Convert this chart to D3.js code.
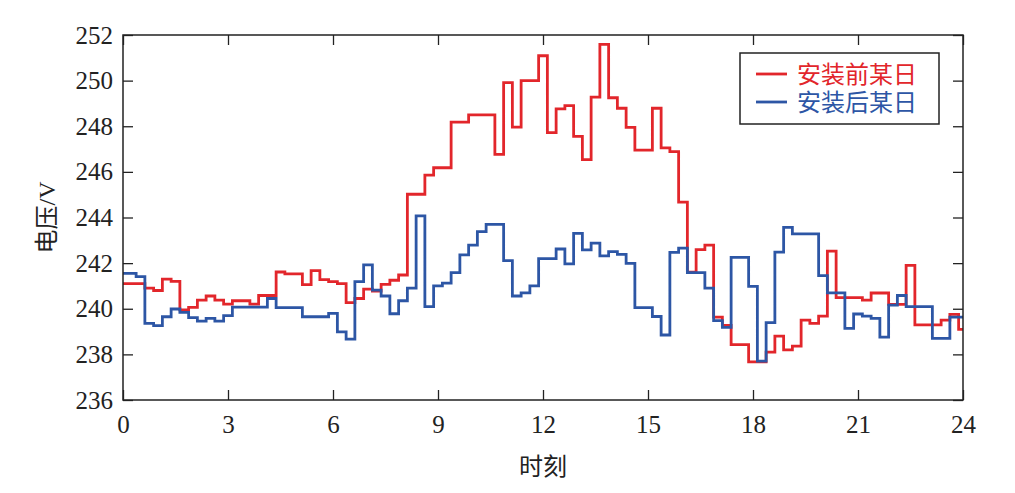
<!DOCTYPE html>
<html>
  <head>
    <meta charset="utf-8">
    <title>电压对比</title>
    <style>
      body { margin: 0; background: #fff; }
      text { fill: #222; }
    </style>
  </head>
  <body>
    <div id="chart"></div>
  </body>
  <script src="https://d3js.org/d3.v7.min.js"></script>
  <script>

    // time axis: one reading every 15 min, 0..24 h
    let hours = d3.range(0, 24.001, 0.25);

    // voltage before installation (V)
    let before = [
      241.1, 241.1, 241.1, 240.9, 240.8, 241.3, 241.2, 239.95, 240.06, 240.38,
      240.56, 240.38, 240.2, 240.35, 240.35, 240.2, 240.58, 240.58, 241.61, 241.53,
      241.53, 241.06, 241.67, 241.28, 241.19, 241.1, 240.27, 240.45, 240.86, 240.77,
      241.07, 241.25, 241.48, 245.02, 245.02, 245.86, 246.18, 246.18, 248.18, 248.18,
      248.5, 248.5, 248.5, 246.77, 249.91, 247.96, 250.0, 250.0, 251.09, 247.72,
      248.76, 248.9, 247.56, 246.54, 249.28, 251.59, 249.25, 248.79, 247.95, 246.95,
      246.95, 248.79, 247.05, 246.89, 244.67, 241.6, 242.59, 242.79, 239.63, 239.27,
      238.43, 238.43, 237.67, 237.67, 238.1, 238.8, 238.2, 238.36, 239.5, 239.36,
      239.68, 242.53, 240.49, 240.49, 240.49, 240.38, 240.69, 240.69, 240.19, 240.19,
      241.9, 239.29, 239.29, 239.29, 239.5, 239.75, 239.1
    ];

    // voltage after installation (V)
    let after = [
      241.55, 241.55, 241.41, 239.36, 239.26, 239.65, 239.99, 239.84, 239.61, 239.46,
      239.58, 239.46, 239.7, 240.07, 240.07, 240.07, 240.07, 240.45, 240.05, 240.05,
      240.05, 239.65, 239.65, 239.65, 239.8, 238.99, 238.67, 241.19, 241.92, 240.82,
      240.56, 239.78, 240.35, 240.9, 244.07, 240.09, 241.0, 241.12, 241.58, 242.36,
      242.79, 243.38, 243.7, 243.7, 242.11, 240.56, 240.7, 241.0, 242.2, 242.2,
      242.62, 241.97, 243.3, 242.58, 242.88, 242.32, 242.5, 242.38, 241.99, 240.05,
      240.05, 239.66, 238.85, 242.47, 242.66, 241.58, 241.58, 240.9, 239.48, 239.18,
      242.25, 242.25, 240.98, 237.7, 239.39, 242.48, 243.57, 243.28, 243.28, 243.28,
      241.45, 240.7, 240.7, 239.14, 239.77, 239.68, 239.58, 238.76, 240.16, 240.58,
      240.09, 240.09, 240.09, 238.7, 238.7, 239.63, 239.63
    ];

    let seriesNames = ["安装前某日", "安装后某日"];
    let seriesColors = ["#e2262b", "#2d56a5"];
    let xTicks = [0, 3, 6, 9, 12, 15, 18, 21, 24];
    let yTicks = [236, 238, 240, 242, 244, 246, 248, 250, 252];

    let margin = {top: 35, right: 52, bottom: 93, left: 123};
    let width = 1015 - margin.left - margin.right;
    let height = 493 - margin.top - margin.bottom;

    let xScale = d3.scaleLinear().domain([0, 24]).range([0, width]);
    let yScale = d3.scaleLinear().domain([236, 252]).range([height, 0]);

    let svg = d3.select("#chart").append("svg")
      .attr("width", 1015)
      .attr("height", 493)
      .append("g")
      .attr("transform", "translate(" + margin.left + "," + margin.top + ")");

    let serif = "'Liberation Serif', 'Times New Roman', serif";
    let cjk = "'Noto Sans CJK SC', sans-serif";

    // axes with inward ticks
    let bottom = svg.append("g")
      .attr("transform", "translate(0," + height + ")")
      .call(d3.axisBottom(xScale).tickValues(xTicks).tickSize(-10).tickPadding(10));
    let left = svg.append("g")
      .call(d3.axisLeft(yScale).tickValues(yTicks).tickSize(-10).tickPadding(10));
    svg.append("g")
      .call(d3.axisTop(xScale).tickValues(xTicks).tickSize(-10).tickFormat(""));
    svg.append("g")
      .attr("transform", "translate(" + width + ",0)")
      .call(d3.axisRight(yScale).tickValues(yTicks).tickSize(-10).tickFormat(""));

    svg.selectAll(".domain").remove();
    svg.selectAll(".tick line").attr("stroke", "#222").attr("stroke-width", 1.3);
    svg.selectAll(".tick text")
      .style("font-family", serif)
      .style("font-size", "25px")
      .attr("fill", "#222");
    bottom.selectAll(".tick text").attr("dy", "0.9em");

    // step lines
    let datasets = [before, after];
    datasets.forEach(function(values, i) {
      let line = d3.line()
        .x(function(d, j) { return xScale(hours[j]); })
        .y(function(d) { return yScale(d); })
        .curve(d3.curveStep);
      svg.append("path")
        .datum(values)
        .attr("fill", "none")
        .attr("stroke", seriesColors[i])
        .attr("stroke-width", 2.8)
        .attr("d", line);
    });

    // frame
    svg.append("rect")
      .attr("width", width)
      .attr("height", height)
      .attr("fill", "none")
      .attr("stroke", "#222")
      .attr("stroke-width", 1.5);

    // axis titles
    svg.append("text")
      .attr("x", width / 2)
      .attr("y", height + 75)
      .attr("text-anchor", "middle")
      .style("font-family", cjk)
      .style("font-size", "24px")
      .text("时刻");

    let ylab = svg.append("text")
      .attr("transform", "translate(-68," + (height / 2) + ") rotate(-90)")
      .attr("text-anchor", "middle")
      .style("font-size", "24px");
    ylab.append("tspan").style("font-family", cjk).text("电压");
    ylab.append("tspan").style("font-family", serif).text("/V");

    // legend
    let legend = svg.append("g").attr("transform", "translate(617,18)");
    legend.append("rect")
      .attr("width", 199)
      .attr("height", 71)
      .attr("fill", "#fff")
      .attr("stroke", "#222")
      .attr("stroke-width", 1.5);
    seriesNames.forEach(function(name, i) {
      let yy = 21 + i * 28;
      legend.append("line")
        .attr("x1", 16).attr("x2", 47)
        .attr("y1", yy).attr("y2", yy)
        .attr("stroke", seriesColors[i])
        .attr("stroke-width", 2.8);
      legend.append("text")
        .attr("x", 57)
        .attr("y", yy)
        .attr("dy", "0.36em")
        .style("font-family", cjk)
        .style("font-size", "24px")
        .style("fill", seriesColors[i])
        .text(name);
    });

  </script>
</html>
